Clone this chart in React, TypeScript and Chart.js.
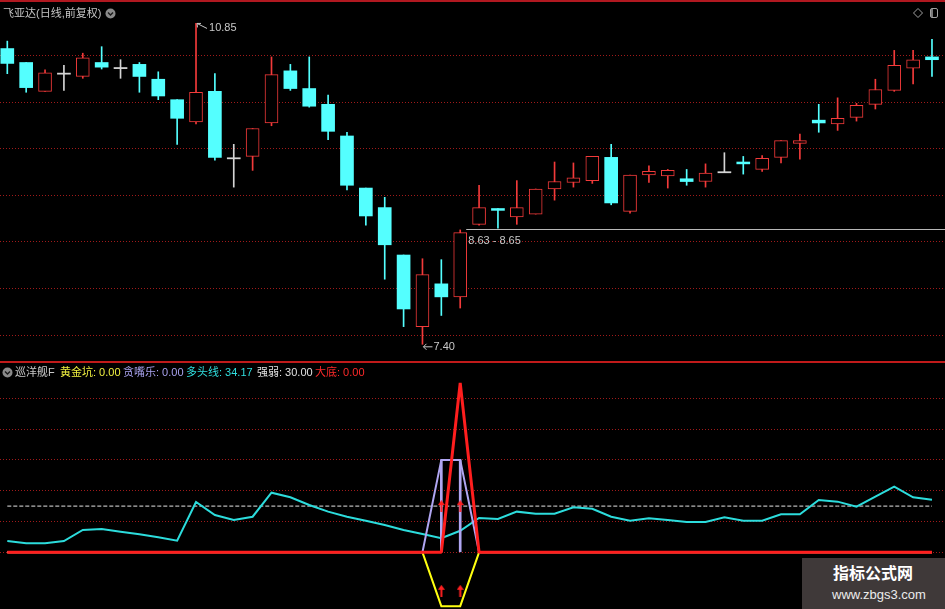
import React, { useEffect, useRef } from 'react';
import { Chart, registerables } from 'chart.js';
Chart.register(...registerables);

// ---- price data (daily candles) ----
const opens = [10.58, 10.43, 10.12, 10.31, 10.28, 10.43, 10.37, 10.41, 10.25, 10.03,
  9.79, 10.12, 9.40, 9.42, 9.78, 10.34, 10.15, 9.98, 9.64, 9.08,
  8.87, 8.36, 7.59, 8.05, 7.91, 8.69, 8.86, 8.77, 8.80, 9.07,
  9.14, 9.16, 9.41, 8.83, 9.22, 9.21, 9.18, 9.15, 9.25, 9.36,
  9.28, 9.41, 9.56, 9.81, 9.77, 9.84, 9.98, 10.13, 10.37, 10.49];
const highs = [10.66, 10.43, 10.35, 10.40, 10.53, 10.60, 10.46, 10.43, 10.33, 10.03,
  10.85, 10.31, 9.55, 9.72, 10.49, 10.41, 10.49, 10.08, 9.68, 9.08,
  8.98, 8.36, 8.32, 8.31, 8.63, 9.11, 8.86, 9.16, 9.07, 9.36,
  9.35, 9.42, 9.55, 9.22, 9.32, 9.28, 9.28, 9.34, 9.46, 9.42,
  9.43, 9.59, 9.66, 9.98, 10.05, 9.99, 10.25, 10.56, 10.56, 10.68];
const lows = [10.31, 10.11, 10.12, 10.13, 10.26, 10.36, 10.26, 10.11, 10.03, 9.55,
  9.77, 9.38, 9.09, 9.27, 9.75, 10.13, 9.95, 9.60, 9.06, 8.68,
  8.10, 7.59, 7.40, 7.71, 7.79, 8.68, 8.65, 8.69, 8.80, 8.95,
  9.09, 9.13, 8.90, 8.81, 9.14, 9.08, 9.11, 9.09, 9.25, 9.23,
  9.26, 9.35, 9.39, 9.68, 9.70, 9.80, 9.93, 10.12, 10.20, 10.28];
const closes = [10.42, 10.16, 10.32, 10.31, 10.48, 10.38, 10.37, 10.28, 10.07, 9.83,
  10.11, 9.41, 9.40, 9.72, 10.30, 10.15, 9.96, 9.69, 9.11, 8.78,
  8.47, 7.78, 8.15, 7.91, 8.60, 8.87, 8.84, 8.87, 9.07, 9.15,
  9.19, 9.42, 8.92, 9.22, 9.26, 9.27, 9.15, 9.24, 9.25, 9.34,
  9.40, 9.59, 9.59, 9.78, 9.83, 9.97, 10.14, 10.40, 10.46, 10.46];
const priceGridTicks = [7.5, 8, 8.5, 9, 9.5, 10, 10.5];
const gapIndex = 24;

// ---- indicator (巡洋舰F) ----
const duoTouXian = [7.3, 5.8, 5.8, 7.3, 14.5, 15.1, 13.4, 11.7, 9.7, 7.5,
  32.7, 24.2, 21.0, 23.1, 38.7, 35.7, 30.7, 26.4, 23.1, 20.5,
  17.7, 14.5, 11.9, 9.1, 14.0, 22.3, 21.6, 26.4, 25.1, 25.1,
  29.2, 28.3, 23.1, 20.5, 22.1, 21.0, 19.7, 19.7, 22.7, 20.5,
  20.5, 24.7, 24.7, 34.0, 32.9, 29.6, 36.1, 42.6, 35.7, 34.17];
const huangJinKeng = [0, 0, 0, 0, 0, 0, 0, 0, 0, 0,
  0, 0, 0, 0, 0, 0, 0, 0, 0, 0,
  0, 0, 0, -35, -35, 0, 0, 0, 0, 0,
  0, 0, 0, 0, 0, 0, 0, 0, 0, 0,
  0, 0, 0, 0, 0, 0, 0, 0, 0, 0];
const tanZuiLe = [0, 0, 0, 0, 0, 0, 0, 0, 0, 0,
  0, 0, 0, 0, 0, 0, 0, 0, 0, 0,
  0, 0, 0, 60, 60, 0, 0, 0, 0, 0,
  0, 0, 0, 0, 0, 0, 0, 0, 0, 0,
  0, 0, 0, 0, 0, 0, 0, 0, 0, 0];
const daDi = [0, 0, 0, 0, 0, 0, 0, 0, 0, 0,
  0, 0, 0, 0, 0, 0, 0, 0, 0, 0,
  0, 0, 0, 0, 110, 0, 0, 0, 0, 0,
  0, 0, 0, 0, 0, 0, 0, 0, 0, 0,
  0, 0, 0, 0, 0, 0, 0, 0, 0, 0];
const qiangRuoLevel = 30;
const arrowIndexes = [23, 24];
const arrowUpperValues = [30, 30];
const arrowLowerValues = [-25, -25];
const indGridTicks = [0, 20, 40, 60, 80, 100];

// ---- styling ----
const RED = '#f23a3a';
const CYAN = '#54ffff';
const DOJI = '#d4d4d4';
const GRID = '#a01a1a';
const LABEL = '#c8c8c8';
const FONT = '11px "Liberation Sans", Arial, "Noto Sans CJK SC", sans-serif';
const HFONT = '"Liberation Sans", Arial, "Noto Sans CJK SC", sans-serif';

const X_MIN = -0.387;
const X_MAX = 49.69;

const idx = opens.map((_, i) => i);
const candleColor = (i: number) => (closes[i] > opens[i] ? RED : closes[i] < opens[i] ? CYAN : DOJI);
const bodyRange = (i: number) => {
  const o = opens[i], c = closes[i];
  if (Math.abs(o - c) < 0.012) {
    const m = (o + c) / 2;
    return [m - 0.006, m + 0.006];
  }
  return [o, c];
};

function makeArrow(color: string) {
  const c = document.createElement('canvas');
  c.width = 7; c.height = 12;
  const g = c.getContext('2d')!;
  g.fillStyle = color;
  g.beginPath(); g.moveTo(3.5, 0); g.lineTo(7, 5); g.lineTo(0, 5); g.closePath(); g.fill();
  g.fillRect(2.5, 5, 2, 7);
  return c;
}

const annotPlugin = {
  id: 'annot',
  afterDatasetsDraw(chart: any) {
    const { ctx, chartArea } = chart;
    const x = chart.scales.x, y = chart.scales.y;
    ctx.save();
    ctx.font = FONT;
    ctx.fillStyle = LABEL;
    ctx.strokeStyle = LABEL;
    ctx.lineWidth = 1;
    ctx.textBaseline = 'middle';
    // highest
    let hi = 0; highs.forEach((v, i) => { if (v > highs[hi]) hi = i; });
    const hx = x.getPixelForValue(hi), hy = y.getPixelForValue(highs[hi]);
    ctx.beginPath(); ctx.moveTo(hx + 1, hy); ctx.lineTo(hx + 11, hy + 5); ctx.stroke();
    ctx.beginPath(); ctx.moveTo(hx + 1, hy); ctx.lineTo(hx + 5, hy); ctx.moveTo(hx + 1, hy); ctx.lineTo(hx + 1.5, hy + 4); ctx.stroke();
    ctx.fillText(highs[hi].toFixed(2), hx + 13, hy + 5);
    // lowest
    let lo = 0; lows.forEach((v, i) => { if (v < lows[lo]) lo = i; });
    const lx = x.getPixelForValue(lo), ly = y.getPixelForValue(lows[lo]) + 2.5;
    ctx.beginPath(); ctx.moveTo(lx + 1, ly); ctx.lineTo(lx + 10, ly); ctx.stroke();
    ctx.beginPath(); ctx.moveTo(lx + 1, ly); ctx.lineTo(lx + 4, ly - 3); ctx.moveTo(lx + 1, ly); ctx.lineTo(lx + 4, ly + 3); ctx.stroke();
    ctx.fillText(lows[lo].toFixed(2), lx + 11, ly);
    // gap
    const gapLo = highs[gapIndex];
    const gapHi = Math.min(...lows.slice(gapIndex + 1));
    const gy = Math.round(y.getPixelForValue((gapLo + gapHi) / 2)) + 0.5;
    const gx = x.getPixelForValue(gapIndex) + 6;
    ctx.strokeStyle = '#b8b8b8';
    ctx.beginPath(); ctx.moveTo(gx, gy); ctx.lineTo(chartArea.right, gy); ctx.stroke();
    ctx.fillStyle = LABEL;
    ctx.fillText(`${gapLo.toFixed(2)} - ${gapHi.toFixed(2)}`, gx + 2, gy + 11);
    ctx.restore();
  },
};

function yAxis(min: number, max: number, ticks: number[]) {
  return {
    type: 'linear', min, max, display: true,
    ticks: { display: false },
    grid: { color: GRID, lineWidth: 1, drawTicks: false },
    border: { display: false, dash: [1, 2] },
    afterBuildTicks: (s: any) => { s.ticks = ticks.map((v) => ({ value: v })); },
  };
}
const xAxis = () => ({ type: 'linear', min: X_MIN, max: X_MAX, display: false, offset: false });

const Chevron = ({ cx, cy }: { cx: number; cy: number }) => (
  <svg width={11} height={11} style={{ position: 'absolute', left: cx - 5.5, top: cy - 5.5 }}>
    <circle cx={5.5} cy={5.5} r={5} fill="#8a8a8a" />
    <polyline points="3,4.5 5.5,7 8,4.5" fill="none" stroke="#1a1a1a" strokeWidth={1.4} />
  </svg>
);

export default function App() {
  const topRef = useRef<HTMLCanvasElement>(null);
  const botRef = useRef<HTMLCanvasElement>(null);

  useEffect(() => {
    const top = new Chart(topRef.current!, {
      type: 'bar',
      data: {
        datasets: [
          {
            label: 'body',
            data: idx.map((i) => ({ x: i, y: bodyRange(i) })) as any,
            backgroundColor: idx.map((i) => (closes[i] > opens[i] ? '#000000' : candleColor(i))),
            borderColor: idx.map(candleColor),
            borderWidth: idx.map((i) => (closes[i] > opens[i] ? 1 : 0)),
            borderSkipped: false,
            barThickness: 13,
            grouped: false,
            order: 1,
          } as any,
          {
            label: 'wick',
            data: idx.map((i) => ({ x: i, y: [lows[i], highs[i]] })) as any,
            backgroundColor: idx.map(candleColor),
            borderWidth: 0,
            barThickness: 1,
            grouped: false,
            order: 2,
          } as any,
        ],
      },
      options: {
        animation: false,
        responsive: false,
        devicePixelRatio: 1,
        events: [],
        layout: { padding: 0, autoPadding: false },
        plugins: { legend: { display: false }, tooltip: { enabled: false } },
        scales: { x: xAxis() as any, y: yAxis(7.2097, 11.102, priceGridTicks) as any },
      },
      plugins: [annotPlugin],
    });

    const arrow = makeArrow('#ff2020');
    const pts = (arr: number[]) => idx.map((i) => ({ x: i, y: arr[i] }));
    const bot = new Chart(botRef.current!, {
      type: 'line',
      data: {
        datasets: [
          {
            type: 'scatter',
            label: 'arrows',
            data: [
              ...arrowIndexes.map((ix, k) => ({ x: ix, y: arrowUpperValues[k] })),
              ...arrowIndexes.map((ix, k) => ({ x: ix, y: arrowLowerValues[k] })),
            ],
            pointStyle: arrow as any,
            pointRadius: 6,
            order: 0,
          } as any,
          {
            label: '大底', data: pts(daDi), borderColor: '#ff1e1e', borderWidth: 3,
            borderJoinStyle: 'bevel', pointRadius: 0, tension: 0, order: 1,
          },
          {
            label: '贪嘴乐', data: pts(tanZuiLe), borderColor: '#b0a6f2', borderWidth: 2,
            pointRadius: 0, tension: 0, order: 2,
          },
          {
            type: 'bar', label: 'stick',
            data: idx.filter((i) => tanZuiLe[i] !== 0).map((i) => ({ x: i, y: [0, tanZuiLe[i]] })),
            backgroundColor: '#b0a6f2', borderWidth: 0, barThickness: 2, grouped: false, order: 3,
          } as any,
          {
            label: '黄金坑', data: pts(huangJinKeng), borderColor: '#ffff10', borderWidth: 2,
            pointRadius: 0, tension: 0, order: 4,
          },
          {
            label: '多头线', data: pts(duoTouXian), borderColor: '#2cdcdc', borderWidth: 2,
            pointRadius: 0, tension: 0, order: 5,
          },
          {
            label: '强弱', data: idx.map((i) => ({ x: i, y: qiangRuoLevel })), borderColor: '#e6e6e6',
            borderWidth: 1, borderDash: [4, 2], pointRadius: 0, order: 6,
          },
        ],
      },
      options: {
        animation: false,
        responsive: false,
        devicePixelRatio: 1,
        events: [],
        layout: { padding: 0, autoPadding: false },
        plugins: { legend: { display: false }, tooltip: { enabled: false } },
        scales: { x: xAxis() as any, y: yAxis(-36.82, 123.57, indGridTicks) as any },
      },
    });

    return () => { top.destroy(); bot.destroy(); };
  }, []);

  const last = opens.length - 1;
  const hdr = (left: number, color: string, text: string) => (
    <span style={{ position: 'absolute', left, top: 365, color, font: `11px ${HFONT}`, lineHeight: '14px', whiteSpace: 'nowrap' }}>{text}</span>
  );

  return (
    <div style={{ position: 'fixed', left: 0, top: 0, width: 945, height: 609, background: '#000', overflow: 'hidden' }}>
      <canvas ref={topRef} width={945} height={362} style={{ position: 'absolute', left: 0, top: 0 }} />
      <canvas ref={botRef} width={945} height={247} style={{ position: 'absolute', left: 0, top: 362 }} />
      <div style={{ position: 'absolute', left: 0, top: 0, width: 945, height: 2, background: '#b01820' }} />
      <div style={{ position: 'absolute', left: 0, top: 361, width: 945, height: 2, background: '#c01a1a' }} />

      <span style={{ position: 'absolute', left: 3, top: 6, color: '#c4c4c4', font: `11px ${HFONT}`, lineHeight: '14px', whiteSpace: 'nowrap' }}>飞亚达(日线,前复权)</span>
      <Chevron cx={110} cy={13} />
      <svg width={12} height={12} style={{ position: 'absolute', left: 912, top: 7 }}>
        <polygon points="6,1.5 10.5,6 6,10.5 1.5,6" fill="none" stroke="#a0a0a0" strokeWidth={1} />
      </svg>
      <svg width={10} height={12} style={{ position: 'absolute', left: 929, top: 7 }}>
        <rect x={1.5} y={1.5} width={7} height={9} rx={1.5} fill="none" stroke="#a0a0a0" strokeWidth={1} />
        <line x1={3} y1={2} x2={3} y2={10} stroke="#a0a0a0" strokeWidth={1.5} />
      </svg>

      <Chevron cx={7} cy={372} />
      {hdr(15, '#c8c8c8', '巡洋舰F')}
      {hdr(60, '#f0f040', `黄金坑: ${huangJinKeng[last].toFixed(2)}`)}
      {hdr(123, '#a8a2ee', `贪嘴乐: ${tanZuiLe[last].toFixed(2)}`)}
      {hdr(186, '#30dede', `多头线: ${duoTouXian[last].toFixed(2)}`)}
      {hdr(257, '#e0e0e0', `强弱: ${qiangRuoLevel.toFixed(2)}`)}
      {hdr(315, '#ff2a2a', `大底: ${daDi[last].toFixed(2)}`)}

      <div style={{ position: 'absolute', left: 802, top: 558, width: 143, height: 51, background: '#3f3939' }}>
        <div style={{ position: 'absolute', left: 31, top: 3, color: '#ffffff', font: `bold 16px "Noto Sans CJK SC", sans-serif`, lineHeight: '22px', whiteSpace: 'nowrap' }}>指标公式网</div>
        <div style={{ position: 'absolute', left: 30, top: 29, color: '#ececec', font: `13px "Liberation Sans", Arial, sans-serif`, lineHeight: '16px', whiteSpace: 'nowrap' }}>www.zbgs3.com</div>
      </div>
    </div>
  );
}
